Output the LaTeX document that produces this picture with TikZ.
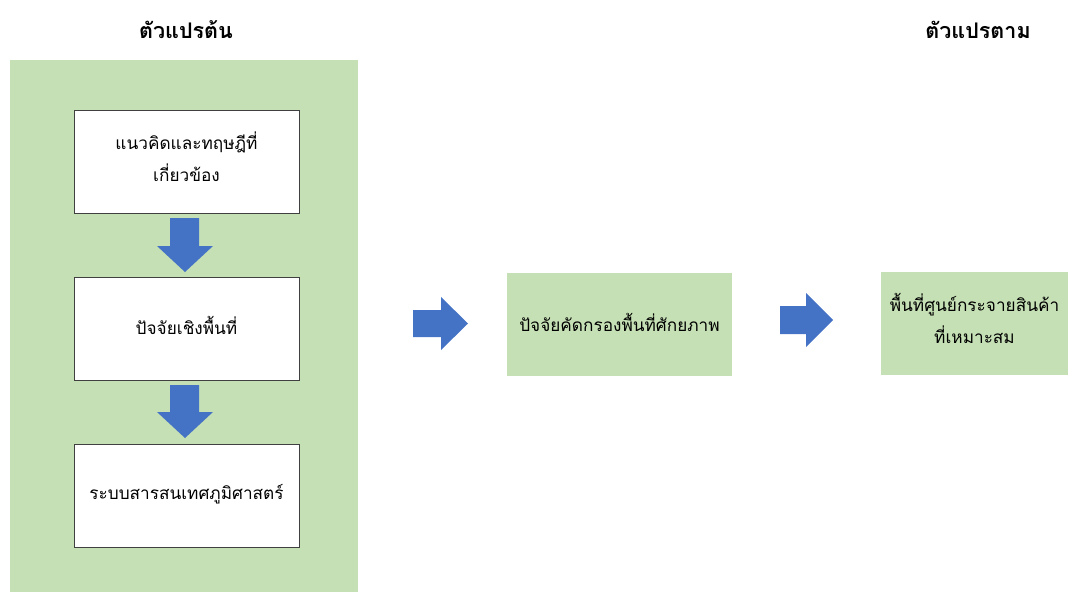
\documentclass[tikz,border=0pt]{standalone}
\usepackage{fontspec}
\newfontfamily\thaifont[Script=Thai]{Loma}
\definecolor{panelgreen}{HTML}{C5E0B4}
\definecolor{arrowblue}{HTML}{4472C4}
\definecolor{boxline}{HTML}{404040}
\begin{document}
\begin{tikzpicture}[x=1pt,y=-1pt,
  whitebox/.style={draw=boxline,line width=0.9pt,fill=white,minimum width=225pt,minimum height=103pt,inner sep=0pt},
  greenbox/.style={fill=panelgreen,minimum width=225pt,minimum height=103pt,inner sep=0pt},
  boxtext/.style={align=center,font=\thaifont\fontsize{17.2}{32}\selectfont,inner sep=0pt},
  title/.style={font=\thaifont\bfseries\fontsize{21.5}{26}\selectfont},
  blockarrow/.style={fill=arrowblue,draw=none}]
\useasboundingbox (0,0) rectangle (1068,592);
\fill[panelgreen] (10,60) rectangle (358,592);
\node[title] (t1) at (186,30) {ตัวแปรต้น};
\node[title] (t2) at (978,30) {ตัวแปรตาม};
\node[whitebox] (b1) at (186.5,161.5) {};
\node[boxtext] (b1t) at ([yshift=5pt]b1.center) {แนวคิดและทฤษฎีที่\\เกี่ยวข้อง};
\node[whitebox] (b2) at (186.5,328.5) {};
\node[boxtext] (b2t) at ([yshift=3pt]b2.center) {ปัจจัยเชิงพื้นที่};
\node[whitebox] (b3) at (186.5,495.5) {};
\node[boxtext] (b3t) at ([yshift=1pt]b3.center) {ระบบสารสนเทศภูมิศาสตร์};
\node[greenbox] (m) at (619.5,324.5) {};
\node[boxtext] (mt) at ([yshift=2pt]m.center) {ปัจจัยคัดกรองพื้นที่ศักยภาพ};
\node[greenbox,minimum width=187pt] (r) at (974.5,323.5) {};
\node[boxtext] (rt) at ([yshift=5pt]r.center) {พื้นที่ศูนย์กระจายสินค้า\\ที่เหมาะสม};
% down arrows
\fill[blockarrow] (170,218) -- (199,218) -- (199,246) -- (213,246) -- (185,272) -- (157,246) -- (170,246) -- cycle;
\fill[blockarrow] (170,385) -- (199,385) -- (199,412) -- (213,412) -- (185,438) -- (157,412) -- (170,412) -- cycle;
% right arrows
\fill[blockarrow] (413,310) -- (441,310) -- (441,297) -- (468,323.5) -- (441,350) -- (441,337) -- (413,337) -- cycle;
\fill[blockarrow] (780,306) -- (806,306) -- (806,293) -- (833,320) -- (806,347) -- (806,334) -- (780,334) -- cycle;
\end{tikzpicture}
\end{document}
